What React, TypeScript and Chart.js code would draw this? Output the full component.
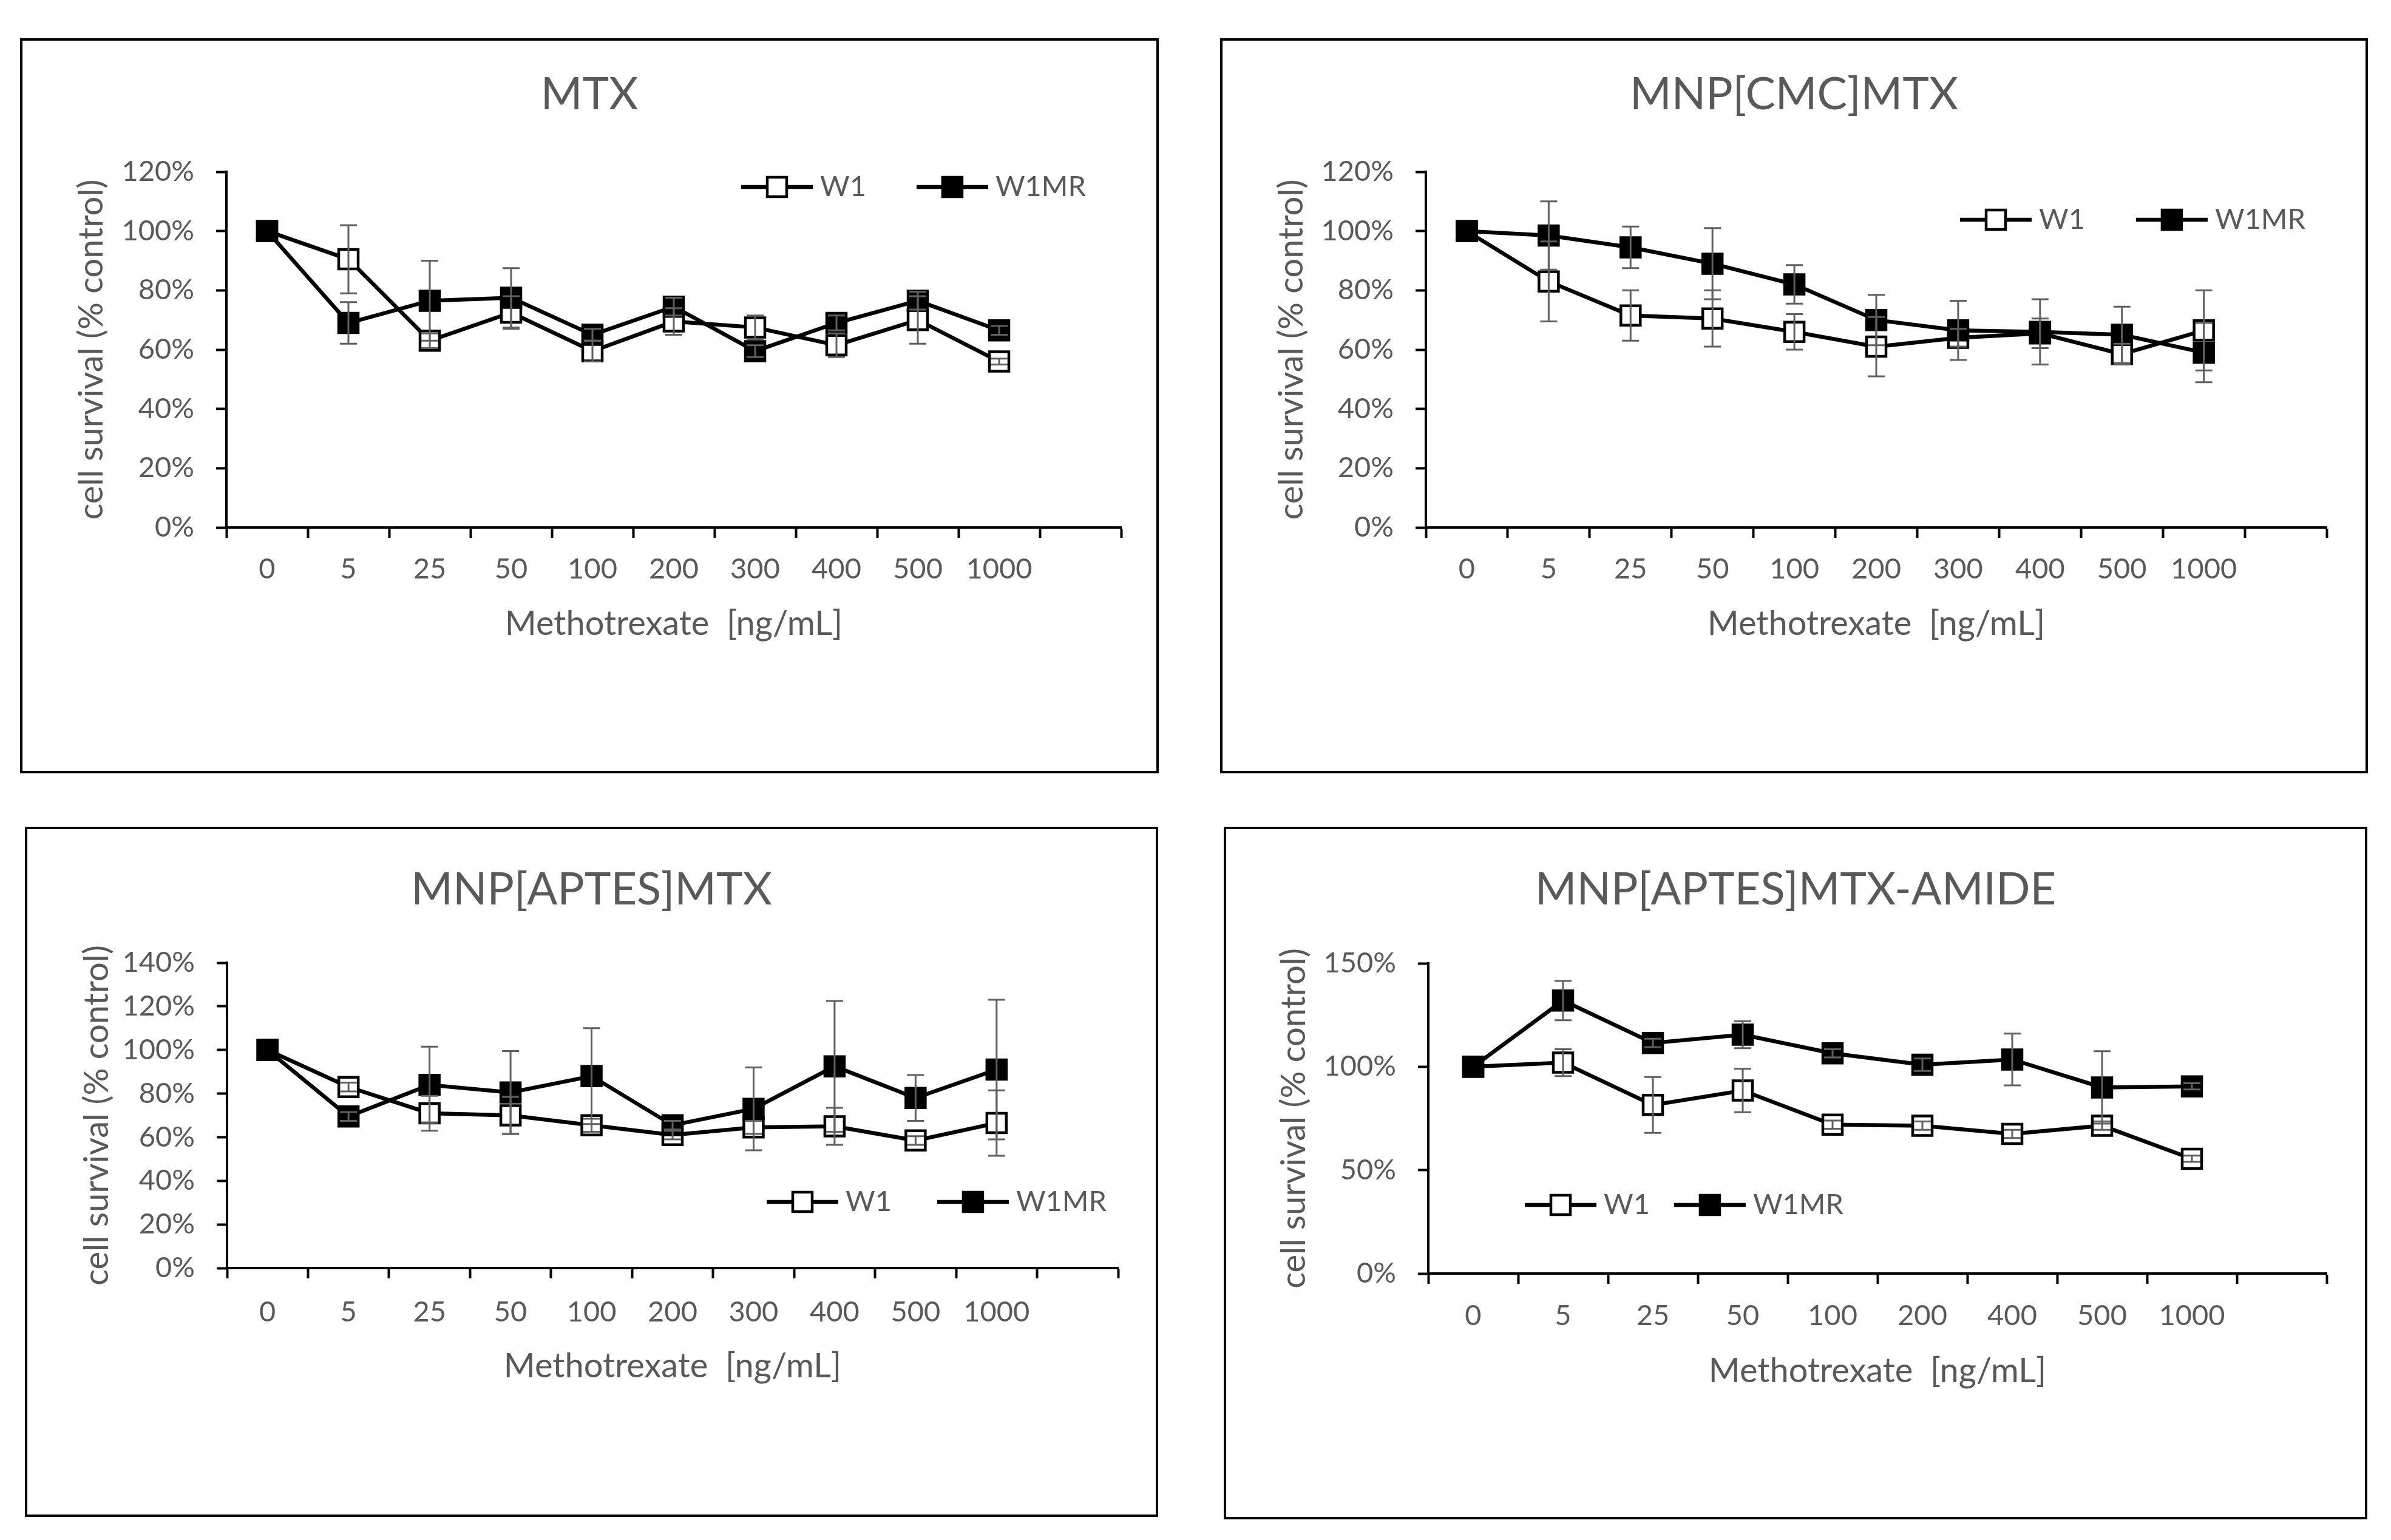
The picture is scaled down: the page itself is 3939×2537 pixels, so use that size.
import { useEffect, useRef } from "react"
import { Chart, registerables } from "chart.js"

Chart.register(...registerables)

const FONT = "Lato, 'Open Sans', sans-serif"
const TEXT_GREY = "#595959"

// dose categories (last slot is an empty category, like the Excel source)
const doseLabels = ["0", "5", "25", "50", "100", "200", "300", "400", "500", "1000", ""]
const amideDoseLabels = ["0", "5", "25", "50", "100", "200", "400", "500", "1000", ""]

const seriesNames = ["W1", "W1MR"]

// MTX
const mtxW1 = [100, 90.5, 63, 72.5, 59.5, 69.5, 67.5, 61.5, 70, 56]
const mtxW1Err = [0, 11.5, 2.5, 5.5, 3.5, 4.5, 4, 4, 8, 1]
const mtxW1MR = [100, 69, 76.5, 77.5, 65, 74.5, 59.5, 69, 76.5, 66.5]
const mtxW1MRErr = [0, 7, 13.5, 10, 2, 3, 2, 2.5, 3, 1.5]

// MNP[CMC]MTX
const cmcW1 = [100, 83, 71.5, 70.5, 66, 61, 64, 65.5, 58.5, 66.5]
const cmcW1Err = [0, 13.5, 8.5, 9.5, 6, 10, 3, 5, 3.5, 13.5]
const cmcW1MR = [100, 98.5, 94.5, 89, 82, 70, 66.5, 66, 65, 59]
const cmcW1MRErr = [0, 11.5, 7, 12, 6.5, 8.5, 10, 11, 9.5, 10]

// MNP[APTES]MTX
const aptesW1 = [100, 83, 71, 70, 65.5, 61, 64.5, 65, 58.5, 66.5]
const aptesW1Err = [0, 2, 8, 8.5, 3, 2, 3, 8.5, 2, 15]
const aptesW1MR = [100, 69.5, 84, 80.5, 88, 65.5, 73, 92.5, 78, 91]
const aptesW1MRErr = [0, 2, 17.5, 19, 22, 2, 19, 30, 10.5, 32]

// MNP[APTES]MTX-AMIDE
const amideW1 = [100, 102, 81.5, 88.5, 72, 71.5, 67.5, 71.5, 55.5]
const amideW1Err = [0, 6.5, 13.5, 10.5, 2, 2, 2, 2, 1.5]
const amideW1MR = [100, 132, 111.5, 115.5, 106.5, 101, 103.5, 90, 90.5]
const amideW1MRErr = [0, 9.5, 2, 6.5, 2, 3, 12.5, 17.5, 1.5]

interface PanelProps {
  title: string
  labels: string[]
  w1: number[]
  w1Err: number[]
  w1mr: number[]
  w1mrErr: number[]
  yMax: number
  yStep: number
  box: { left: number; top: number; width: number; height: number }
  area: { left: number; top: number; right: number; bottom: number }
  titleY: number
  yTitleX: number
  xTitleY: number
  xTickPad: number
  legend: { x: number; y: number; gap: number }
}

const TITLE_SIZE = 74
const Y_TITLE_SIZE = 56
const LINE_W = 6.5
const MARKER = 32 // side of the square marker, without border

function Panel(p: PanelProps) {
  const chartRef = useRef<HTMLCanvasElement>(null)
  const chartInstance = useRef<Chart | null>(null)

  useEffect(() => {
    if (!chartRef.current) return
    if (chartInstance.current) chartInstance.current.destroy()

    const cw = p.box.width - 8
    const ch = p.box.height - 8
    const titleLH = TITLE_SIZE * 1.2

    // vertical error bars, drawn through the y scale
    const errorBars = {
      id: "errorBars",
      afterDatasetsDraw(chart: any) {
        const ctx = chart.ctx
        const yScale = chart.scales.y
        ctx.save()
        ctx.strokeStyle = "#606060"
        ctx.lineWidth = 3
        chart.data.datasets.forEach((ds: any, di: number) => {
          const meta = chart.getDatasetMeta(di)
          meta.data.forEach((pt: any, i: number) => {
            const e = ds.errors[i]
            if (!e) return
            const v = ds.data[i]
            const top = yScale.getPixelForValue(v + e)
            const bot = yScale.getPixelForValue(v - e)
            ctx.beginPath()
            ctx.moveTo(pt.x, top)
            ctx.lineTo(pt.x, bot)
            ctx.moveTo(pt.x - 14, top)
            ctx.lineTo(pt.x + 14, top)
            ctx.moveTo(pt.x - 14, bot)
            ctx.lineTo(pt.x + 14, bot)
            ctx.stroke()
          })
        })
        ctx.restore()
      },
    }

    // Excel style legend (line with marker), placed inside the plot
    const panelLegend = {
      id: "panelLegend",
      afterDraw(chart: any) {
        const ctx = chart.ctx
        let x = p.legend.x
        const y = p.legend.y
        ctx.save()
        ctx.font = `47px ${FONT}`
        ctx.textBaseline = "middle"
        chart.data.datasets.forEach((ds: any) => {
          ctx.strokeStyle = "#000"
          ctx.lineWidth = LINE_W
          ctx.beginPath()
          ctx.moveTo(x, y)
          ctx.lineTo(x + 118, y)
          ctx.stroke()
          const s = MARKER
          ctx.fillStyle = ds.pointBackgroundColor
          ctx.fillRect(x + 59 - s / 2, y - s / 2, s, s)
          ctx.lineWidth = 4.5
          ctx.strokeRect(x + 59 - s / 2, y - s / 2, s, s)
          ctx.fillStyle = TEXT_GREY
          ctx.fillText(ds.label, x + 130, y)
          x += 130 + ctx.measureText(ds.label).width + p.legend.gap
        })
        ctx.restore()
      },
    }

    const pointRadius = MARKER / (2 * Math.SQRT1_2)

    chartInstance.current = new Chart(chartRef.current, {
      type: "line",
      data: {
        labels: p.labels,
        datasets: [
          {
            label: seriesNames[0],
            data: p.w1,
            errors: p.w1Err,
            order: 2,
            borderColor: "#000",
            borderWidth: LINE_W,
            pointStyle: "rect",
            pointRadius,
            pointBorderWidth: 4.5,
            pointBackgroundColor: "#fff",
            pointBorderColor: "#000",
          },
          {
            label: seriesNames[1],
            data: p.w1mr,
            errors: p.w1mrErr,
            order: 1,
            borderColor: "#000",
            borderWidth: LINE_W,
            pointStyle: "rect",
            pointRadius,
            pointBorderWidth: 4.5,
            pointBackgroundColor: "#000",
            pointBorderColor: "#000",
          },
        ] as any,
      },
      options: {
        animation: false,
        responsive: false,
        devicePixelRatio: 1,
        layout: { padding: 0 },
        plugins: {
          legend: { display: false },
          tooltip: { enabled: false },
          title: {
            display: true,
            text: p.title,
            color: TEXT_GREY,
            font: { family: FONT, size: TITLE_SIZE, weight: "normal", lineHeight: 1.2 },
            padding: {
              top: p.titleY - titleLH / 2,
              bottom: p.area.top - (p.titleY - titleLH / 2) - titleLH,
            },
          },
        },
        scales: {
          x: {
            type: "category",
            offset: true,
            grid: {
              offset: true,
              drawOnChartArea: false,
              drawTicks: true,
              tickLength: 17,
              tickWidth: 4,
              tickColor: "#000",
            },
            border: { display: true, color: "#000", width: 4 },
            ticks: {
              color: TEXT_GREY,
              font: { family: FONT, size: 47 },
              padding: p.xTickPad,
              autoSkip: false,
              maxRotation: 0,
            },
            title: {
              display: true,
              text: "Methotrexate  [ng/mL]",
              color: TEXT_GREY,
              font: { family: FONT, size: 56, lineHeight: 1.2 },
              padding: { top: 0, bottom: ch - p.xTitleY - 33.6 },
            },
            afterFit: (scale: any) => {
              scale.height = ch - p.area.bottom
            },
          },
          y: {
            min: 0,
            max: p.yMax,
            grid: {
              drawOnChartArea: false,
              drawTicks: true,
              tickLength: 17,
              tickWidth: 4,
              tickColor: "#000",
            },
            border: { display: true, color: "#000", width: 4 },
            ticks: {
              stepSize: p.yStep,
              color: TEXT_GREY,
              font: { family: FONT, size: 47 },
              padding: 36,
              callback: (v: any) => `${v}%`,
            },
            title: {
              display: true,
              text: "cell survival (% control)",
              color: TEXT_GREY,
              font: { family: FONT, size: Y_TITLE_SIZE, lineHeight: 1.2 },
              padding: { top: p.yTitleX - (Y_TITLE_SIZE * 1.2) / 2, bottom: 0 },
            },
            afterFit: (scale: any) => {
              scale.width = p.area.left
            },
          },
          // empty right-hand spacer so the plot ends where the reference does
          spacer: {
            type: "linear",
            position: "right",
            display: true,
            grid: { display: false },
            border: { display: false },
            ticks: { display: false },
            afterFit: (scale: any) => {
              scale.width = cw - p.area.right
            },
          },
        },
      } as any,
      plugins: [errorBars, panelLegend],
    })

    return () => {
      if (chartInstance.current) {
        chartInstance.current.destroy()
        chartInstance.current = null
      }
    }
  }, [p])

  return (
    <div
      style={{
        position: "absolute",
        left: p.box.left,
        top: p.box.top,
        width: p.box.width,
        height: p.box.height,
        border: "4px solid #000",
        boxSizing: "border-box",
        background: "#fff",
      }}
    >
      <canvas
        ref={chartRef}
        width={p.box.width - 8}
        height={p.box.height - 8}
        style={{ display: "block", width: p.box.width - 8, height: p.box.height - 8 }}
      />
    </div>
  )
}

const panels: PanelProps[] = [
  {
    title: "MTX",
    labels: doseLabels,
    w1: mtxW1,
    w1Err: mtxW1Err,
    w1mr: mtxW1MR,
    w1mrErr: mtxW1MRErr,
    yMax: 120,
    yStep: 20,
    box: { left: 33, top: 63, width: 1876, height: 1211 },
    area: { left: 336, top: 216, right: 1810, bottom: 802 },
    titleY: 89,
    yTitleX: 114,
    xTitleY: 961,
    xTickPad: 24,
    legend: { x: 1184, y: 241, gap: 83 },
  },
  {
    title: "MNP[CMC]MTX",
    labels: doseLabels,
    w1: cmcW1,
    w1Err: cmcW1Err,
    w1mr: cmcW1MR,
    w1mrErr: cmcW1MRErr,
    yMax: 120,
    yStep: 20,
    box: { left: 2010, top: 63, width: 1891, height: 1211 },
    area: { left: 335, top: 216, right: 1819, bottom: 802 },
    titleY: 89,
    yTitleX: 114,
    xTitleY: 961,
    xTickPad: 24,
    legend: { x: 1215, y: 295, gap: 84 },
  },
  {
    title: "MNP[APTES]MTX",
    labels: doseLabels,
    w1: aptesW1,
    w1Err: aptesW1Err,
    w1mr: aptesW1MR,
    w1mrErr: aptesW1MRErr,
    yMax: 140,
    yStep: 20,
    box: { left: 41, top: 1362, width: 1867, height: 1137 },
    area: { left: 329, top: 220, right: 1797, bottom: 723 },
    titleY: 100,
    yTitleX: 115,
    xTitleY: 885,
    xTickPad: 28,
    legend: { x: 1218, y: 614, gap: 75 },
  },
  {
    title: "MNP[APTES]MTX-AMIDE",
    labels: amideDoseLabels,
    w1: amideW1,
    w1Err: amideW1Err,
    w1mr: amideW1MR,
    w1mrErr: amideW1MRErr,
    yMax: 150,
    yStep: 50,
    box: { left: 2016, top: 1362, width: 1884, height: 1141 },
    area: { left: 333, top: 221, right: 1813, bottom: 732 },
    titleY: 100,
    yTitleX: 112,
    xTitleY: 893,
    xTickPad: 25,
    legend: { x: 492, y: 619, gap: 40 },
  },
]

export default function App() {
  return (
    <div
      style={{
        position: "absolute",
        left: 0,
        top: 0,
        width: 3939,
        height: 2537,
        background: "#fff",
      }}
    >
      {panels.map((p) => (
        <Panel key={p.title} {...p} />
      ))}
    </div>
  )
}
